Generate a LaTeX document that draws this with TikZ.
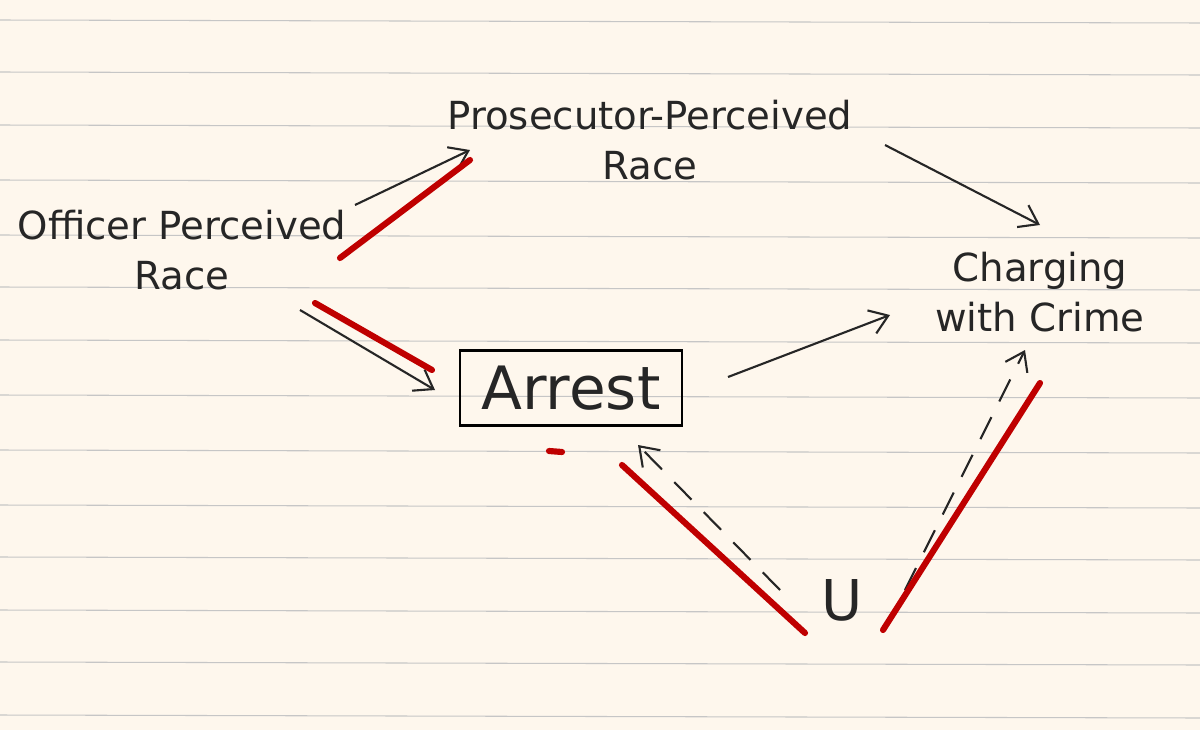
\documentclass[tikz,border=0pt]{standalone}
\usepackage{fontspec}
\setmainfont{DejaVu Sans}
\tikzset{
 lbl/.style={font=\fontsize{22}{28}\selectfont\mdseries, align=center, text=black!85, inner sep=0pt},
 arr/.style={-{Straight Barb[length=10pt,width=14pt]}, line width=1.2pt, black!85},
 darr/.style={arr, dash pattern=on 14pt off 10pt},
 red/.style={line width=3.5pt, color=red!75!black, line cap=round},
 paper/.style={line width=0.6pt, color=gray!45}
}
\usetikzlibrary{arrows.meta}
\begin{document}
\begin{tikzpicture}[x=0.02cm,y=-0.02cm]
\fill[yellow!8!orange!6!white] (0,0) rectangle (1200,730);
\useasboundingbox (0,0) rectangle (1200,730);
\foreach \y in {20,72,125,180,235,287,340,395,450,505,557,610,662,715}
  \draw[paper] (0,\y) -- (1200,\y+3);
\node[lbl] (pros) at (650,140) {Prosecutor-Perceived\\Race};
\node[lbl] (off) at (182,250) {Officer Perceived\\Race};
\node[draw, line width=1.3pt, minimum width=222pt*0.569, minimum height=75pt*0.569, font=\fontsize{34}{40}\selectfont, text=black!85, inner sep=0pt] (arr) at (571,388) {Arrest};
\node[lbl] (chg) at (1040,292) {Charging\\with Crime};
\node[lbl, font=\fontsize{32}{36}\selectfont] (u) at (842,600) {U};
\coordinate (a1) at (355,205); \coordinate (a2) at (470,150);
\coordinate (b1) at (885,145); \coordinate (b2) at (1040,225);
\coordinate (c1) at (300,310); \coordinate (c2) at (435,390);
\coordinate (d1) at (728,377); \coordinate (d2) at (890,315);
\coordinate (e1) at (780,590); \coordinate (e2) at (638,445);
\coordinate (f1) at (905,590); \coordinate (f2) at (1025,350);
\draw[arr] (a1) -- (a2);
\draw[arr] (b1) -- (b2);
\draw[arr] (c1) -- (c2);
\draw[arr] (d1) -- (d2);
\draw[darr] (e1) -- (e2);
\draw[darr] (f1) -- (f2);
\draw[red] (340,258) -- (470,160);
\draw[red] (315,303) -- (432,370);
\draw[red] (549,451) -- (562,452);
\draw[red] (622,465) -- (805,633);
\draw[red] (883,630) -- (1040,383);
\end{tikzpicture}
\end{document}
